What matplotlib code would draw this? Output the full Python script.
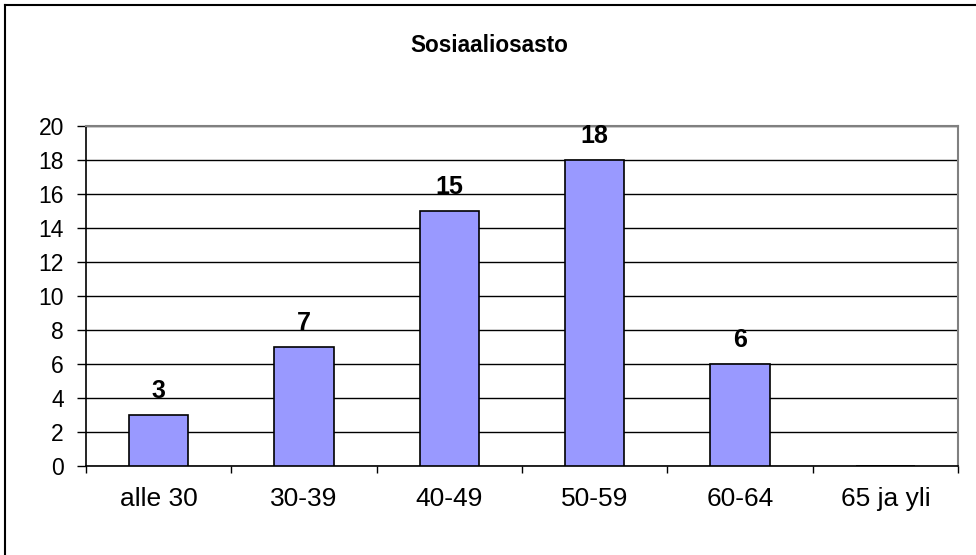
import matplotlib
matplotlib.use("Agg")
import matplotlib.pyplot as plt
from matplotlib.lines import Line2D
import numpy as np

categories = ["alle 30", "30-39", "40-49", "50-59", "60-64", "65 ja yli"]
values = [3, 7, 15, 18, 6, 0]
yticks = [0, 2, 4, 6, 8, 10, 12, 14, 16, 18, 20]
title = "Sosiaaliosasto"

plt.rcParams["font.family"] = ["Liberation Sans", "DejaVu Sans"]

W, H = 976, 555
fig = plt.figure(figsize=(W / 100, H / 100), dpi=100)
fig.patch.set_facecolor("white")

# chart frame (top and left edges visible)
fig.add_artist(Line2D([5 / W, 1.0], [1 - 5 / H, 1 - 5 / H], transform=fig.transFigure,
                      color="black", lw=1.5))
fig.add_artist(Line2D([5 / W, 5 / W], [0, 1 - 5 / H], transform=fig.transFigure,
                      color="black", lw=1.5))

left, right, top, bottom = 86, 958, 126, 466
ax = fig.add_axes([left / W, 1 - bottom / H, (right - left) / W, (bottom - top) / H])

x = np.arange(len(categories))
bars = ax.bar(x, values, width=0.41, color="#9999FF", edgecolor="black", linewidth=1.2, zorder=3)

for xi, v in zip(x, values):
    if v > 0:
        ax.text(xi, v + 1.0, str(v), ha="center", va="baseline", fontsize=18,
                fontweight="bold", zorder=4)

ax.set_xlim(-0.5, len(categories) - 0.5)
ax.set_ylim(0, 20)
ax.set_yticks(yticks)
ax.set_yticklabels([str(t) for t in yticks], fontsize=16.5)
ax.yaxis.grid(True, color="black", linewidth=1.0, zorder=0)
ax.set_axisbelow(True)

# category labels centred, tick marks between categories
ax.set_xticks(x)
ax.set_xticklabels(categories, fontsize=19)
ax.tick_params(axis="x", length=0, pad=15)
ax.set_xticks(np.arange(len(categories) + 1) - 0.5, minor=True)
ax.tick_params(axis="x", which="minor", length=5, width=1, color="black", direction="out")
ax.tick_params(axis="y", length=6.5, width=1, direction="out", pad=9.4)

for s in ["top", "right"]:
    ax.spines[s].set_color("#808080")
    ax.spines[s].set_linewidth(1.5)
for s in ["left", "bottom"]:
    ax.spines[s].set_color("black")
    ax.spines[s].set_linewidth(1.2)

fig.text(489 / W, 1 - 45 / H, title, ha="center", va="center", fontsize=16.3,
         fontweight="bold")

fig.savefig("out.png", dpi=100, facecolor="white")
